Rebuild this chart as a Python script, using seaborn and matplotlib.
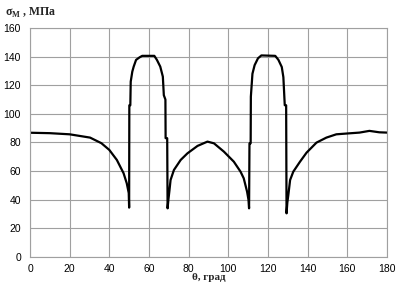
import matplotlib
matplotlib.use("Agg")
import matplotlib.pyplot as plt
import seaborn as sns
import pandas as pd

# angle, deg
theta = [0, 10, 20, 30.3, 36, 40, 43.8, 47.2, 48.8, 49.8, 50.0,
         50.1, 50.6, 50.8, 51.6, 52.3, 53.5, 55.3, 56.6, 62.7, 64.0,
         65.7, 67.0, 67.5, 68.3, 68.4, 69.2, 69.4, 69.8, 70.3, 70.9,
         72.6, 76.0, 79.4, 84.5, 89.5, 92.8, 97.8, 102.8, 106.2, 107.8,
         109.5, 110.2, 110.5, 110.7, 111.3, 111.4, 112.2, 113.3, 115.0,
         116.7, 123.7, 125.3, 127.0, 127.8, 128.5, 129.2, 129.4, 129.8,
         130.3, 131.2, 132.8, 136.2, 139.5, 144.5, 149.5, 154.5, 161.2,
         166.2, 171.2, 176.2, 180]
# stress, MPa
sigma = [86.8, 86.5, 85.7, 83.4, 79.5, 74.8, 67.8, 58.5, 51.5, 44.7, 34.5,
         106, 106, 122.5, 129.5, 133, 137.7, 139.5, 140.5, 140.5, 137.7,
         133, 126, 113, 110, 83, 83, 34, 40, 46, 53.8,
         60.8, 67.8, 72.4, 77.6, 80.6, 79.4, 73.6, 66.6, 59.6, 55,
         45.6, 40, 34, 79.4, 79.4, 112, 128, 134, 138.8,
         140.8, 140.5, 137.7, 132.7, 125.6, 106, 106, 30.5, 38,
         43.3, 53.8, 59.6, 66.6, 72.9, 79.9, 83.4, 85.7, 86.4,
         86.9, 88.1, 87.1, 86.9]

df = pd.DataFrame({"theta": theta, "sigma": sigma})

sns.set_style("white")
fig = plt.figure(figsize=(3.98, 2.88), dpi=100)
ax = fig.add_axes([0.0754, 0.1076, 0.8966, 0.7954])

sns.lineplot(data=df, x="theta", y="sigma", sort=False, estimator=None,
             color="black", linewidth=1.6, ax=ax)

ax.set_xlim(0, 180)
ax.set_ylim(0, 160)
ax.set_xticks(range(0, 181, 20))
ax.set_yticks(range(0, 161, 20))
ax.grid(True, color="#a0a0a0", linewidth=0.8)
for s in ax.spines.values():
    s.set_color("#a0a0a0")
    s.set_linewidth(0.8)
ax.tick_params(length=0, labelsize=7.5, colors="black")
ax.tick_params(axis="y", pad=6.5)
ax.tick_params(axis="x", pad=5)
for lab in ax.get_xticklabels() + ax.get_yticklabels():
    lab.set_family("Liberation Sans")

ax.set_xlabel("")
ax.set_ylabel("")
fig.text(0.525, 0.02, "θ, град", ha="center", va="bottom",
         family="Liberation Serif", weight="bold", fontsize=8)
fig.text(0.012, 0.955, r"σ$_\mathregular{M}$ , МПа", ha="left", va="center",
         family="Liberation Serif", weight="bold", fontsize=8.5)

fig.savefig("out.png", dpi=100)
